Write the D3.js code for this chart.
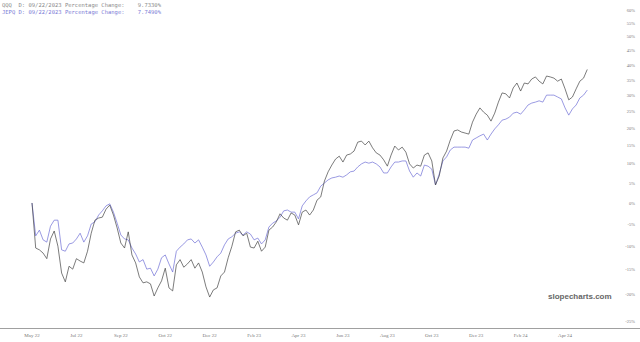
<!DOCTYPE html>
<html>
<head>
<meta charset="utf-8">
<script src="https://cdn.jsdelivr.net/npm/d3@7"></script>
<style>
  body { margin: 0; background: #fff; }
  svg { display: block; }
</style>
</head>
<body>
<svg id="chart" width="640" height="342"></svg>
<script>
// one value every 5 calendar days from 2022-05-04, percentage change vs start
const startDate = new Date(2022, 4, 4);
const endDate = new Date(2024, 4, 24);
const stepDays = 5;

const qqq = [
  0, -10.4, -10.8, -11.5, -12.7, -8.4, -6.6, -10.0, -15.7, -17.5,
  -14.3, -14.9, -12.7, -13.2, -13.6, -11.1, -7.1, -4.1, -3.6, -3.4,
  -1.5, -0.5, -2.9, -5.9, -9.3, -10.4, -6.8, -11.9, -13.6, -16.5,
  -17.7, -17.5, -17.9, -20.3, -18.7, -17.3, -14.7, -18.7, -19.3, -14.0,
  -12.9, -14.5, -13.8, -12.9, -14.7, -13.6, -15.5, -18.5, -20.5, -19.1,
  -18.7, -16.3, -15.5, -12.5, -10.0, -6.8, -6.4, -7.7, -7.1, -10.2,
  -10.4, -8.9, -11.1, -10.2, -6.4, -5.7, -4.5, -2.6, -3.6, -4.1,
  -2.4, -2.9, -5.2, -2.2, -1.7, -2.9, -1.7, 0.7, 1.5, 5.5,
  7.9, 9.7, 11.3, 12.1, 10.5, 12.4, 12.7, 13.5, 16.0, 16.3,
  15.2, 16.3, 14.4, 13.0, 12.4, 11.1, 9.4, 12.4, 14.9, 13.8,
  14.6, 13.2, 10.0, 8.9, 9.7, 9.4, 12.4, 13.0, 10.8, 4.5,
  6.8, 11.6, 13.5, 16.6, 19.2, 19.5, 18.9, 18.6, 18.3, 21.8,
  24.2, 26.1, 24.8, 23.9, 22.1, 24.5, 27.9, 30.8, 30.5, 29.2,
  32.4, 34.0, 31.4, 34.0, 33.7, 35.3, 36.0, 34.6, 33.7, 36.3,
  36.0, 35.6, 34.6, 35.3, 32.1, 28.6, 29.5, 32.1, 34.6, 35.6,
  38.5
];

const jepq = [
  0, -7.7, -6.4, -8.6, -9.1, -5.5, -4.1, -4.1, -10.8, -11.1,
  -9.5, -9.3, -8.4, -7.1, -9.1, -7.7, -5.0, -4.5, -2.9, -1.9,
  -0.7, -0.2, -2.2, -4.8, -7.5, -8.4, -8.6, -10.4, -11.7, -13.4,
  -12.9, -14.9, -14.7, -16.3, -14.9, -12.5, -11.9, -13.8, -15.5, -11.1,
  -10.2, -9.5, -8.6, -8.4, -9.3, -8.6, -10.2, -11.9, -14.3, -13.4,
  -12.3, -11.5, -9.7, -8.4, -7.9, -7.1, -6.8, -7.5, -6.8, -7.3,
  -8.6, -8.2, -9.5, -8.6, -5.7, -4.8, -4.3, -3.4, -1.9, -1.7,
  -2.2, -2.2, -3.8, -0.7, 0.5, 1.5, 2.0, 2.5, 4.2, 5.0,
  5.8, 6.3, 6.5, 6.8, 6.5, 7.1, 7.9, 8.1, 9.2, 10.0,
  10.5, 10.2, 10.5, 10.0, 9.2, 7.6, 7.6, 9.2, 10.5, 10.5,
  10.8, 10.8, 8.1, 6.5, 7.6, 6.8, 9.7, 9.4, 8.6, 4.5,
  7.3, 10.8, 11.9, 13.8, 14.6, 14.6, 14.6, 14.6, 14.3, 16.6,
  17.2, 17.8, 18.3, 16.6, 18.3, 19.8, 21.0, 22.4, 22.7, 23.3,
  24.5, 24.8, 24.2, 25.5, 27.0, 27.6, 27.9, 28.3, 27.9, 30.1,
  30.1, 30.1, 29.5, 28.9, 26.1, 23.9, 25.8, 27.0, 29.2, 30.1,
  31.7
];

const yTicks = [-25, -20, -15, -10, -5, 0, 5, 10, 15, 20, 25, 30, 35, 40, 45, 50, 55, 60];
const xTickEvery = 12; // label every 12th point (60 days)
const legendLines = [
  { text: "QQQ  D: 09/22/2023 Percentage Change:    9.7330%", color: "#8a8a8a" },
  { text: "JEPQ D: 09/22/2023 Percentage Change:    7.7490%", color: "#7c7cd6" }
];

const svg = d3.select("#chart");
const dates = qqq.map((_, i) => d3.timeDay.offset(startDate, i * stepDays));

const x = d3.scaleTime().domain([startDate, endDate]).range([32, 588]);
// log scale on growth factor (1 + pct)
const y = d3.scaleLog().domain([0.7372, 1.6407]).range([328, 0]);

const line = d3.line()
  .x((d, i) => x(dates[i]))
  .y(d => y(1 + d / 100));

// bottom axis line
svg.append("line")
  .attr("x1", 0).attr("x2", 640)
  .attr("y1", 328.5).attr("y2", 328.5)
  .attr("stroke", "#a0a0a0").attr("stroke-width", 1);

// x tick labels
const xTicks = dates.filter((d, i) => i % xTickEvery === 0);
svg.append("g").selectAll("text").data(xTicks).join("text")
  .attr("x", d => x(d))
  .attr("y", 337)
  .attr("text-anchor", "middle")
  .attr("font-family", "Liberation Serif, serif")
  .attr("font-size", 5)
  .attr("fill", "#777")
  .text(d => d3.timeFormat("%b %y")(d));

// y tick labels on the right
svg.append("g").selectAll("text").data(yTicks).join("text")
  .attr("x", 635)
  .attr("y", d => y(1 + d / 100))
  .attr("dy", "0.35em")
  .attr("text-anchor", "end")
  .attr("font-family", "Liberation Serif, serif")
  .attr("font-size", 4.5)
  .attr("fill", "#777")
  .text(d => d + "%");

// series
svg.append("path").datum(jepq)
  .attr("fill", "none").attr("stroke", "#6f6fd6").attr("stroke-width", 0.7)
  .attr("d", line);
svg.append("path").datum(qqq)
  .attr("fill", "none").attr("stroke", "#444").attr("stroke-width", 0.7)
  .attr("d", line);

// legend
svg.append("g").selectAll("text").data(legendLines).join("text")
  .attr("x", 2)
  .attr("y", (d, i) => 6.5 + i * 7)
  .attr("font-family", "DejaVu Sans Mono, monospace")
  .attr("font-size", 5.5)
  .attr("fill", d => d.color)
  .attr("xml:space", "preserve")
  .style("white-space", "pre")
  .text(d => d.text);

// watermark
svg.append("text")
  .attr("x", 548).attr("y", 299)
  .attr("font-family", "Liberation Sans, Arial, sans-serif")
  .attr("font-weight", "bold")
  .attr("font-size", 8)
  .attr("fill", "#666")
  .text("slopecharts.com");
</script>
</body>
</html>
